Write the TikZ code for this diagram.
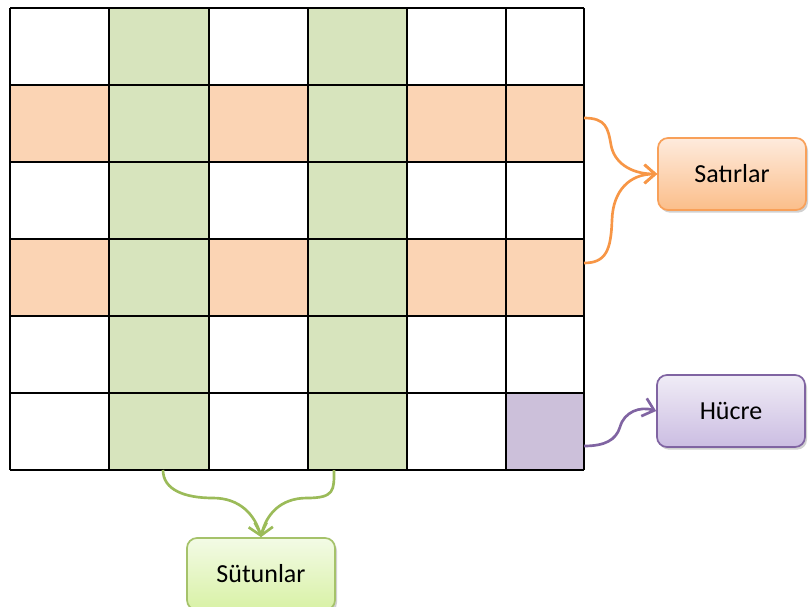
\documentclass[tikz,border=0pt]{standalone}
\usepackage{fontspec}
\setmainfont{Carlito}
\usetikzlibrary{arrows.meta,shadows}

\definecolor{colgreen}{HTML}{D7E4BD}
\definecolor{rowpeach}{HTML}{FBD4B4}
\definecolor{cellpurple}{HTML}{CCC0DA}
\definecolor{orangeline}{HTML}{F79646}
\definecolor{purpleline}{HTML}{8064A2}
\definecolor{greenline}{HTML}{9BBB59}
\definecolor{rowtop}{HTML}{FEEBDD}
\definecolor{rowbottom}{HTML}{FBBE8A}
\definecolor{celltop}{HTML}{F0ECF6}
\definecolor{cellbottom}{HTML}{CBBDE2}
\definecolor{coltop}{HTML}{F3FBE6}
\definecolor{colbottom}{HTML}{D8F1A5}

\tikzset{
  labelbox/.style={draw, line width=1.3pt, rounded corners=7.5pt,
    minimum width=111pt, minimum height=54pt, inner sep=0pt,
    font=\fontsize{19.5pt}{22pt}\selectfont,
    drop shadow={shadow xshift=1.5pt, shadow yshift=-2pt, opacity=0.3, fill=black!60}},
  rowbox/.style={labelbox, draw=orangeline!90, top color=rowtop, bottom color=rowbottom},
  cellbox/.style={labelbox, draw=purpleline, top color=celltop, bottom color=cellbottom},
  colbox/.style={labelbox, draw=greenline!90, top color=coltop, bottom color=colbottom},
  link/.style={line width=2pt, -{Straight Barb[length=8pt,width=14pt,line width=2pt]}},
  gridline/.style={line width=1.5pt, black}
}

\begin{document}
\begin{tikzpicture}[x=0.75pt, y=-0.75pt]
\useasboundingbox (0,0) rectangle (809,606);

% peach rows
\fill[rowpeach] (10,85) rectangle (584,162);
\fill[rowpeach] (10,239) rectangle (584,316);
% green columns
\fill[colgreen] (109,8) rectangle (209,470);
\fill[colgreen] (308,8) rectangle (407,470);
% single highlighted cell
\fill[cellpurple] (506,393) rectangle (584,470);

% grid lines
\foreach \gx in {10,109,209,308,407,506,584}
  \draw[gridline] (\gx,8) -- (\gx,470);
\foreach \gy in {8,85,162,239,316,393,470}
  \draw[gridline] (10,\gy) -- (584,\gy);

% label boxes
\node[rowbox]  (rows)  at (732,174) {Satırlar};
\node[cellbox] (cell)  at (731,411) {Hücre};
\node[colbox]  (cols)  at (261,574) {Sütunlar};

% connector start points on the grid
\coordinate (rowA) at (584,118);
\coordinate (rowB) at (584,263);
\coordinate (colA) at (163,470);
\coordinate (colB) at (334,470);
\coordinate (cellS) at (584,446);

% connectors
\draw[link, orangeline] (rowA) .. controls (606,118) and (608,128) .. (611,145)
  .. controls (614,162) and (630,174) .. (rows.west);
\draw[link, orangeline] (rowB) .. controls (606,263) and (611,250) .. (612,220)
  .. controls (613,190) and (630,174) .. (rows.west);
\draw[link, greenline] (colA) .. controls (163,490) and (185,498) .. (213,498)
  .. controls (240,498) and (255,515) .. (cols.north);
\draw[link, greenline] (colB) .. controls (334,490) and (335,498) .. (307,498)
  .. controls (280,498) and (266,515) .. (cols.north);
\draw[link, purpleline] (cellS) .. controls (605,446) and (616,440) .. (620,427)
  .. controls (624,412) and (640,406) .. (cell.west);
\end{tikzpicture}
\end{document}
